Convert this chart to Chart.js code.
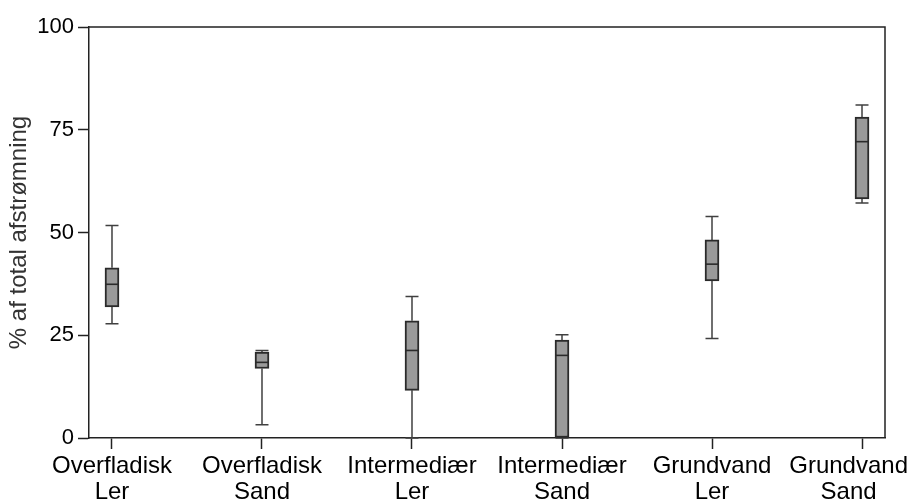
<!DOCTYPE html>
<html>
<head>
<meta charset="utf-8">
<script src="https://cdn.jsdelivr.net/npm/chart.js@4.4.0/dist/chart.umd.min.js"></script>
<style>
  html, body { margin: 0; padding: 0; background: #fff; }
  #wrap { width: 912px; height: 504px; }
</style>
</head>
<body>
<div id="wrap"><canvas id="c" width="912" height="504"></canvas></div>
<script>
// Runoff fraction per flow path and soil type (box plot summary values, %)
const categories = [
  ['Overfladisk', 'Ler'],
  ['Overfladisk', 'Sand'],
  ['Intermediær', 'Ler'],
  ['Intermediær', 'Sand'],
  ['Grundvand', 'Ler'],
  ['Grundvand', 'Sand']
];
const whiskerLow  = [27.8,  3.2,  0.0,  0.0, 24.2, 57.2];
const q1          = [31.9, 16.9, 11.6,  0.0, 38.2, 58.2];
const median      = [37.4, 18.4, 21.3, 20.1, 42.3, 72.1];
const q3          = [41.4, 20.9, 28.5, 23.8, 48.2, 78.1];
const whiskerHigh = [51.7, 21.3, 34.4, 25.1, 53.9, 81.0];
const yTicks = [0, 25, 50, 75, 100];

const INK = '#222222';
const BOX_EDGE = '#2a2a2a';
const WHISKER = '#404040';
const FONT = '"Liberation Sans", Arial, Helvetica, sans-serif';

const boxData = categories.map((c, i) => ({ x: i, y: [q1[i], q3[i]] }));

// whiskers, caps and medians drawn on top of the library's scales
const boxExtras = {
  id: 'boxExtras',
  beforeDraw(chart) {
    // keep the outer category labels inside the canvas
    const xs = chart.scales.x;
    const items = xs.getLabelItems();
    const ctx = chart.ctx;
    items.forEach(item => {
      ctx.save();
      ctx.font = item.font.string;
      const lines = Array.isArray(item.label) ? item.label : [item.label];
      const half = Math.max(...lines.map(l => ctx.measureText(l).width)) / 2;
      ctx.restore();
      const tx = item.options.translation;
      if (tx[0] + half > chart.width - 4) tx[0] = chart.width - 4 - half;
      if (tx[0] - half < 2) tx[0] = 2 + half;
    });
  },
  beforeDatasetsDraw(chart) {
    const { ctx, scales: { x, y } } = chart;
    ctx.save();
    ctx.strokeStyle = WHISKER;
    ctx.lineWidth = 1.5;
    const capHalf = 6.5;
    categories.forEach((c, i) => {
      const px = x.getPixelForValue(i);
      const yl = y.getPixelForValue(whiskerLow[i]);
      const yq1 = y.getPixelForValue(q1[i]);
      const yq3 = y.getPixelForValue(q3[i]);
      const yh = y.getPixelForValue(whiskerHigh[i]);
      ctx.beginPath();
      ctx.moveTo(px, yl); ctx.lineTo(px, yq1);
      ctx.moveTo(px, yq3); ctx.lineTo(px, yh);
      ctx.moveTo(px - capHalf, yl); ctx.lineTo(px + capHalf, yl);
      ctx.moveTo(px - capHalf, yh); ctx.lineTo(px + capHalf, yh);
      ctx.stroke();
    });
    ctx.restore();
  },
  afterDatasetsDraw(chart) {
    const { ctx, scales: { x, y }, chartArea: a } = chart;
    ctx.save();
    ctx.strokeStyle = BOX_EDGE;
    ctx.lineWidth = 1.6;
    const half = 6.5;
    categories.forEach((c, i) => {
      const px = x.getPixelForValue(i);
      const ym = y.getPixelForValue(median[i]);
      ctx.beginPath();
      ctx.moveTo(px - half, ym); ctx.lineTo(px + half, ym);
      ctx.stroke();
    });
    // plot frame
    ctx.strokeStyle = INK;
    ctx.lineWidth = 1.5;
    ctx.beginPath();
    ctx.moveTo(a.left, a.top); ctx.lineTo(a.right, a.top); ctx.lineTo(a.right, a.bottom);
    ctx.stroke();
    ctx.restore();
  }
};

new Chart(document.getElementById('c'), {
  type: 'bar',
  data: {
    datasets: [{
      data: boxData,
      backgroundColor: '#9a9a9a',
      borderColor: BOX_EDGE,
      borderWidth: 2,
      borderSkipped: false,
      barThickness: 14
    }]
  },
  options: {
    responsive: false,
    animation: false,
    devicePixelRatio: 1,
    layout: { padding: { top: 27, right: 27, left: 0, bottom: 0 } },
    plugins: { legend: { display: false }, tooltip: { enabled: false } },
    scales: {
      x: {
        type: 'linear',
        offset: false,
        min: -0.1533,
        max: 5.1533,
        afterBuildTicks: s => { s.ticks = categories.map((c, i) => ({ value: i })); },
        afterFit: s => { s.height = 66; s.paddingLeft = 0; s.paddingRight = 0; },
        ticks: {
          callback: v => categories[v],
          font: { family: FONT, size: 24, lineHeight: 1.07 },
          color: '#000',
          padding: 5,
          maxRotation: 0,
          autoSkip: false
        },
        grid: { offset: false, drawOnChartArea: false, tickLength: 11, tickColor: INK, tickWidth: 1.5 },
        border: { color: INK, width: 1.5 }
      },
      y: {
        min: 0,
        max: 100,
        afterBuildTicks: s => { s.ticks = yTicks.map(v => ({ value: v })); },
        afterFit: s => { s.width = 89; s.paddingTop = 0; s.paddingBottom = 0; },
        ticks: {
          font: { family: FONT, size: 22 },
          color: '#000',
          padding: 4
        },
        grid: { drawOnChartArea: false, tickLength: 11, tickColor: INK, tickWidth: 1.5 },
        border: { color: INK, width: 1.5 },
        title: {
          display: true,
          text: '% af total afstrømning',
          font: { family: FONT, size: 24 },
          color: '#333',
          padding: { top: 5, bottom: 0 }
        }
      }
    }
  },
  plugins: [boxExtras]
});
</script>
</body>
</html>
